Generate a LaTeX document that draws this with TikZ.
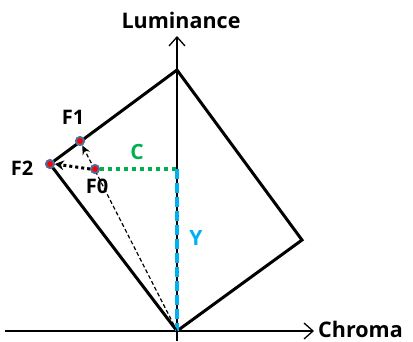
\documentclass[tikz,border=0pt]{standalone}
\usepackage{fontspec}
\setmainfont{Open Sans}
\usetikzlibrary{arrows.meta}
\definecolor{cgreen}{HTML}{00B050}
\definecolor{ccyan}{HTML}{00B0F0}
\definecolor{ring}{HTML}{4F6FA0}
\tikzset{
  axis/.style={line width=1.3pt,-{Straight Barb[length=9pt,width=16pt,line width=1.3pt]}},
  frame/.style={line width=3pt,line join=miter},
  dotpt/.style={circle,fill=red,draw=ring,line width=1.8pt,inner sep=0pt,minimum size=8pt},
  lbl/.style={font=\bfseries\fontsize{20}{22}\selectfont,inner sep=0pt},
  clbl/.style={font=\bfseries\fontsize{21}{23}\selectfont,inner sep=0pt},
  axlbl/.style={font=\bfseries\fontsize{21.5}{24}\selectfont,inner sep=0pt}
}
\begin{document}
\begin{tikzpicture}[x=1pt,y=-1pt]
\useasboundingbox (0,0) rectangle (413,341);
% coordinates
\coordinate (O) at (177,331);
\coordinate (T) at (177,70);
\coordinate (R) at (302,240);
\coordinate (L) at (50,164);
\coordinate (Cy) at (177,169);
\coordinate (Xs) at (5,331);
\coordinate (Xe) at (314,331);
\coordinate (Ys) at (177,341);
\coordinate (Ye) at (177,36);
% axes
\draw[axis] (Xs) -- (Xe);
\draw[axis] (Ys) -- (Ye);
\node[axlbl,anchor=west] (chroma) at (318,329) {Chroma};
\node[axlbl] (lum) at (181,20) {Luminance};
% parallelogram
\draw[frame] (O) -- (R) -- (T) -- (L) -- cycle;
% points
\node[dotpt] (F1) at (80,141) {};
\node[dotpt] (F2) at (50,164) {};
\node[dotpt] (F0) at (95,169) {};
% C and Y
\draw[cgreen,line width=4pt,dash pattern=on 4pt off 4pt] (F0.east) -- (Cy);
\draw[ccyan,line width=4pt,dash pattern=on 10pt off 4pt] (Cy) -- (O);
% arrows
\draw[line width=1.2pt,dash pattern=on 4pt off 2.5pt,-{Stealth[length=9pt,width=8pt]}] (O) -- (F1);
\draw[line width=3pt,dash pattern=on 3pt off 3pt,-{Stealth[length=9pt,width=10pt,line width=0pt]}] (F0.west) -- (F2.east);
% redraw dots on top
\node[dotpt] at (F1) {};
\node[dotpt] at (F2) {};
\node[dotpt] at (F0) {};
% labels
\node[lbl] (lF1) at (73,117) {F1};
\node[lbl] (lF2) at (22,168) {F2};
\node[lbl] (lF0) at (97,186) {F0};
\node[clbl,text=cgreen] (lC) at (137,152) {C};
\node[clbl,text=ccyan] (lY) at (196,238) {Y};
\end{tikzpicture}
\end{document}
